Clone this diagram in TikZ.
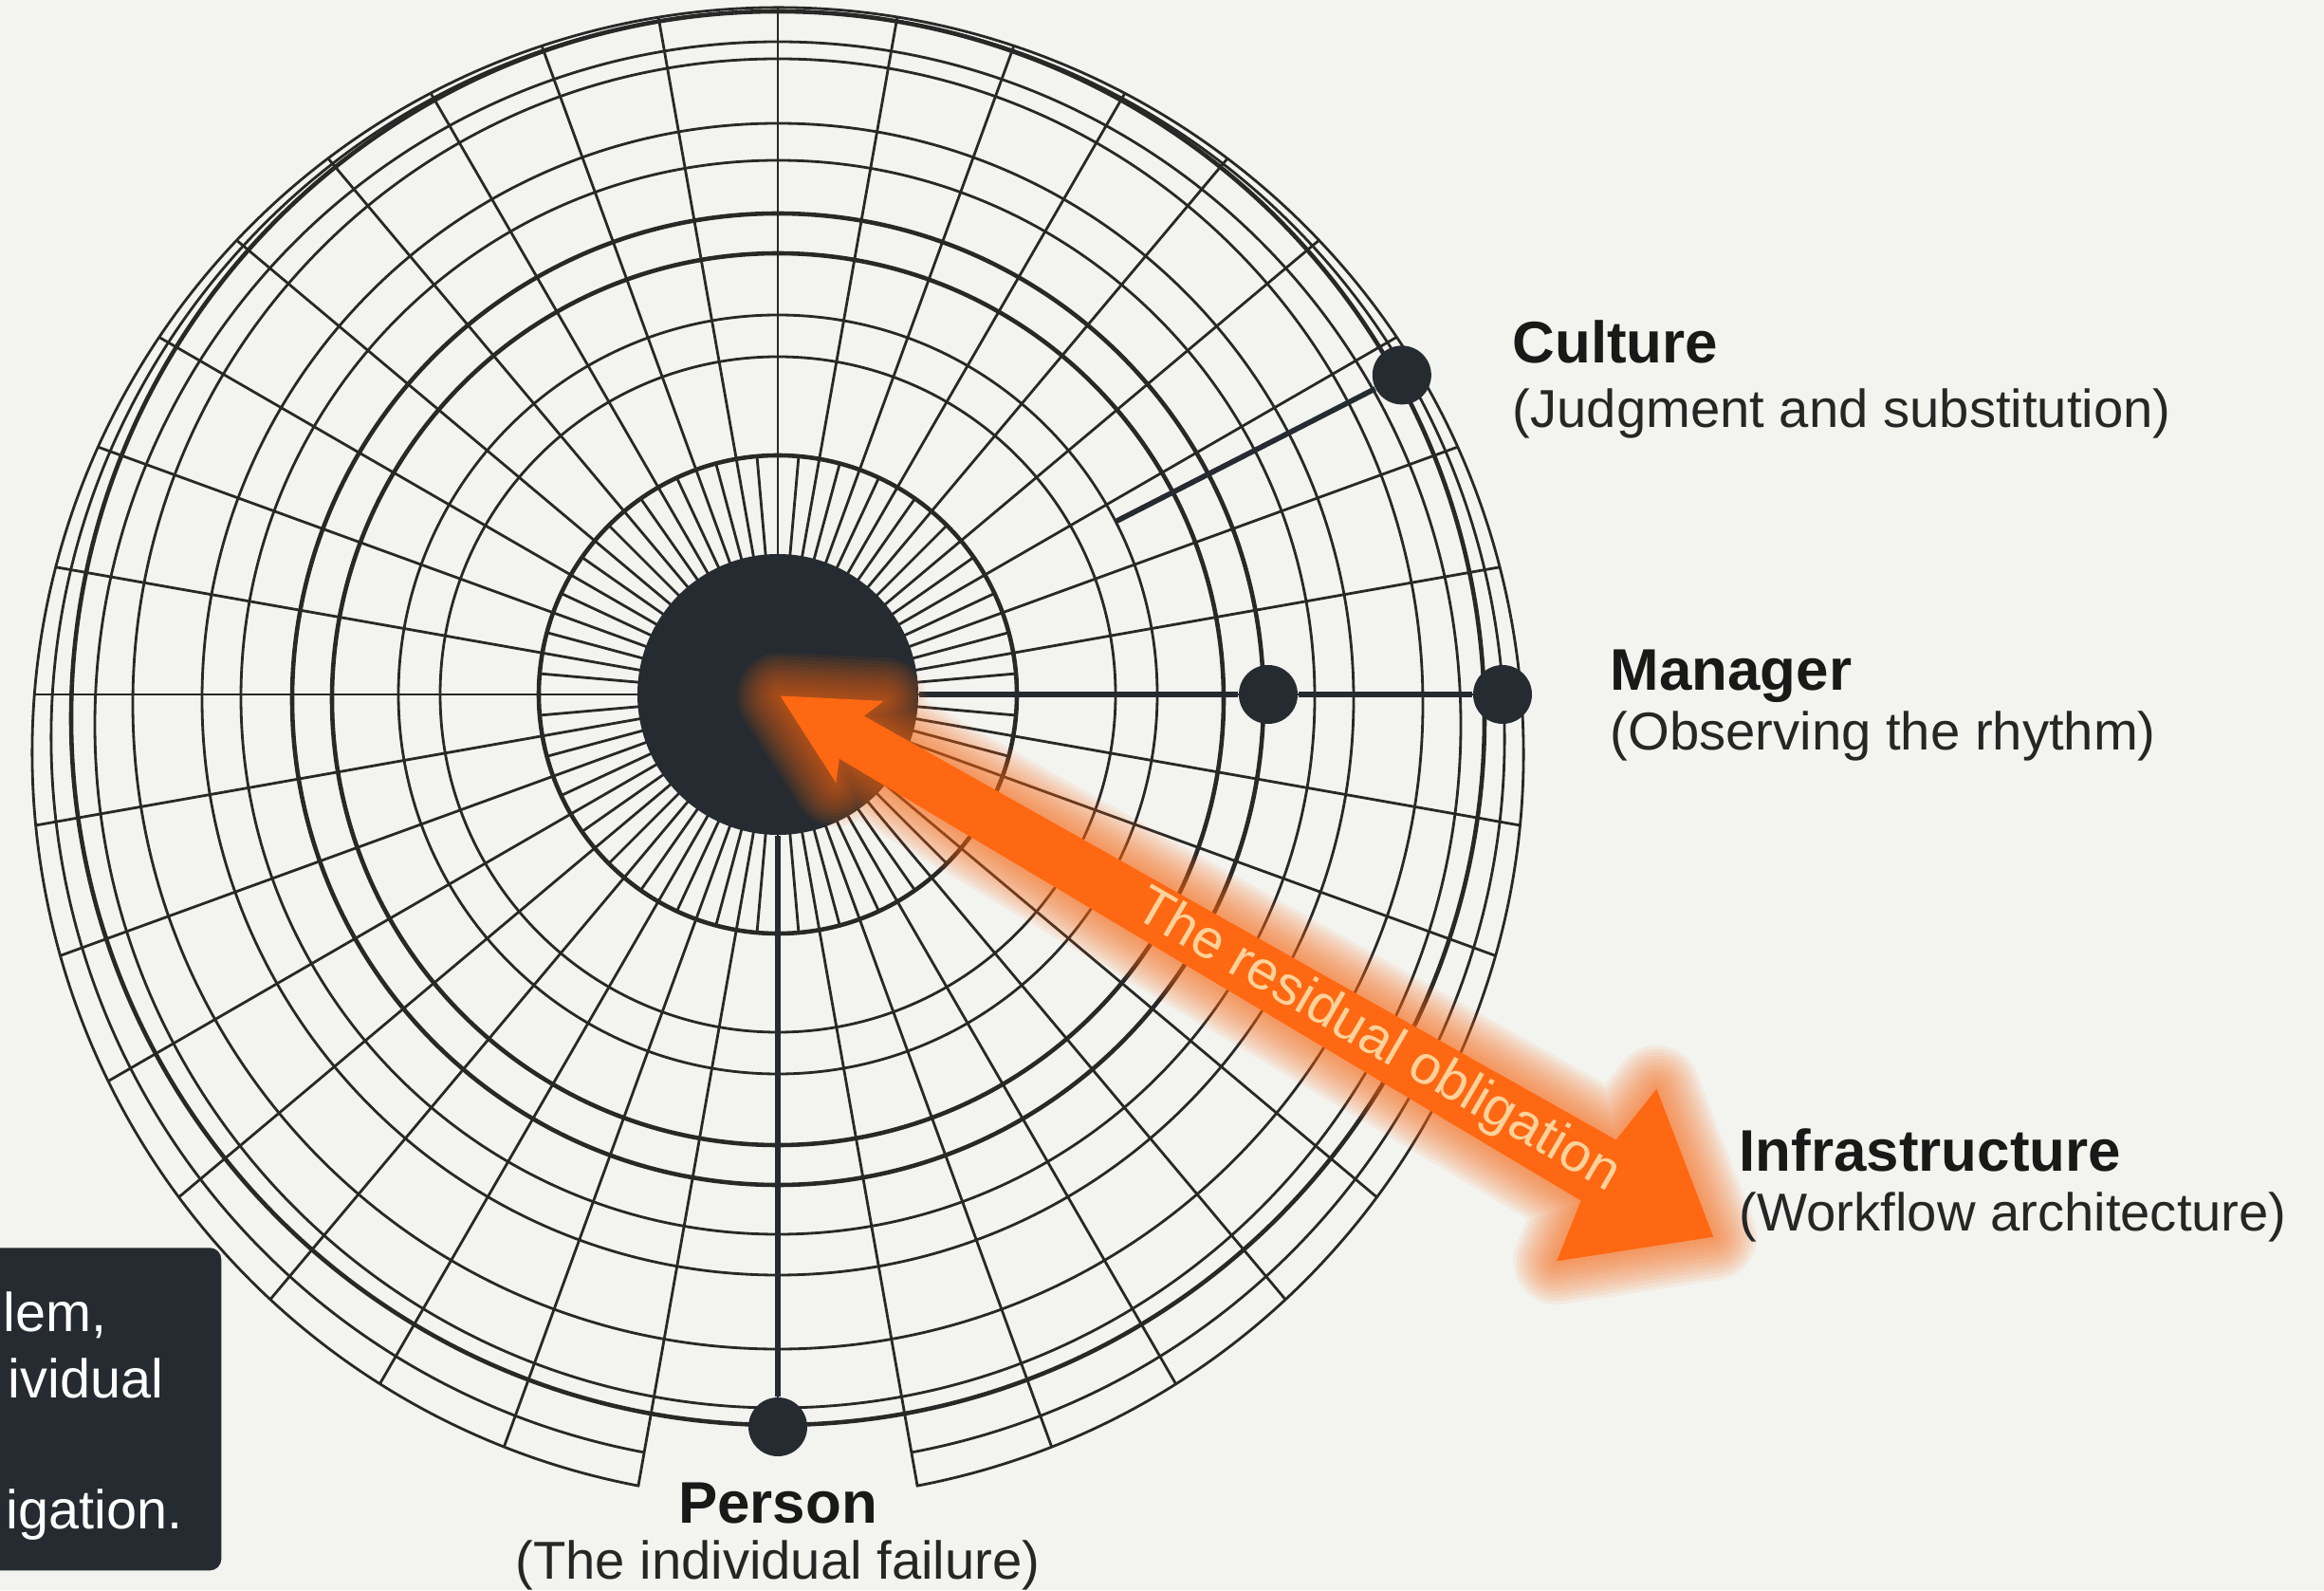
\documentclass[tikz,border=0pt]{standalone}
\usepackage{fontspec}
\setmainfont{Liberation Sans}
\usetikzlibrary{calc,positioning}
\definecolor{paper}{RGB}{243,243,239}
\definecolor{ink}{RGB}{40,40,40}
\definecolor{slate}{RGB}{37,43,48}
\definecolor{flame}{RGB}{255,104,18}
\definecolor{peach}{RGB}{255,210,155}
\newcommand\obligationshape{(0.03,0) -- (1.0,0.5) -- (0.9,0.26) -- (10.0,0.37) -- (10.1,1.05) -- (11.4,0) -- (10.1,-1.05) -- (10.0,-0.37) -- (0.9,-0.26) -- (1.0,-0.5) -- cycle}
\begin{document}
\begin{tikzpicture}[
  grid/.style={draw=ink, line width=0.8pt},
  ring/.style={draw=ink, line width=1.3pt},
  link/.style={draw=slate, line width=1.6pt},
  dot/.style={circle, fill=slate, inner sep=0pt, minimum size=0.62cm},
  title/.style={font=\fontsize{17.6}{21}\selectfont\bfseries, text=black!90, inner sep=0pt},
  sub/.style={font=\fontsize{16}{19}\selectfont, text=black!85, inner sep=0pt},
  note/.style={font=\fontsize{16.4}{19}\selectfont, text=white, inner sep=0pt}
]
\useasboundingbox (0,0) rectangle (24.5,16.76);
\clip (0,0) rectangle (24.5,16.76);
\fill[paper] (0,0) rectangle (24.5,16.76);
\coordinate (c) at (8.2,9.44);

% spokes
\foreach \a in {5,15,...,355} \draw[grid] ($(c)+(\a:1.4)$) -- ($(c)+(\a:2.52)$);
\foreach \a in {0,10,...,350} {
  \pgfmathsetmacro\tend{\a==270 ? 7.7 : (-0.62*sin(\a)+sqrt(7.86^2-(0.62*cos(\a))^2))}
  \draw[grid] ($(c)+(\a:1.4)$) -- ($(c)+(\a:\tend)$);
}

% rings
\foreach \r/\d in {3.56/0, 4.0/0, 5.66/0.03, 6.07/0.05, 6.80/0.10, 7.20/0.32}
  \draw[grid] ($(c)+(0,-\d)$) circle[radius=\r];
\foreach \r/\d in {2.52/0, 4.70/0.05, 5.12/0.05, 7.45/0.25}
  \draw[ring] ($(c)+(0,-\d)$) circle[radius=\r];
\foreach \r/\d in {7.66/0.46, 7.86/0.62}
  \draw[grid] ($(c)+(0,-\d)+(-79.3:\r)$) arc[start angle=-79.3, end angle=259.3, radius=\r];

\node[circle, fill=slate, inner sep=0pt, minimum size=2.96cm] (hub) at (c) {};
\node[dot] (mgr-in) at ($(c)+(0:5.17)$) {};
\node[dot] (mgr-out) at ($(c)+(0:7.64)$) {};
\node[dot] (cult) at ($(c)+(27.1:7.39)$) {};
\node[dot] (pers) at ($(c)+(270:7.72)$) {};
\coordinate (cult-in) at ($(c)+(27.1:4.0)$);

\draw[link] (hub) -- (mgr-in);
\draw[link] (mgr-in) -- (mgr-out);
\draw[link] (hub) -- (pers);
\draw[link] (cult-in) -- (cult);

% residual obligation
\begin{scope}[shift={(c)}, rotate=-30.1]
  \foreach \w in {2,4,...,26}
    \draw[flame, line width=\w pt, opacity=0.07, line join=round] \obligationshape;
  \fill[flame] \obligationshape;
  \node[font=\fontsize{16.4}{19}\selectfont, text=peach, rotate=-30.1, inner sep=0pt] (obl) at (7.3,0) {The residual obligation};
\end{scope}

\node[title, anchor=base west] (cult-t) at (15.94,12.93) {Culture};
\node[sub, anchor=base west] (cult-s) at (15.94,12.25) {(Judgment and substitution)};
\node[title, anchor=base west] (mgr-t) at (16.97,9.48) {Manager};
\node[sub, anchor=base west] (mgr-s) at (16.97,8.85) {(Observing the rhythm)};
\node[title, anchor=base west] (infra-t) at (18.33,4.42) {Infrastructure};
\node[sub, anchor=base west] (infra-s) at (18.33,3.79) {(Workflow architecture)};
\node[title, anchor=base] (pers-t) at (8.2,0.71) {Person};
\node[sub, anchor=base] (pers-s) at (8.2,0.12) {(The individual failure)};

\node[fill=slate, rounded corners=0.12cm, minimum width=2.9cm, minimum height=3.4cm, inner sep=0pt, anchor=south east] (notebox) at (2.34,0.2) {};
\node[note, anchor=base east] (note-a) at (1.13,2.73) {lem,};
\node[note, anchor=base east] (note-b) at (1.73,2.03) {ividual};
\node[note, anchor=base east] (note-c) at (1.93,0.65) {igation.};
\end{tikzpicture}
\end{document}
